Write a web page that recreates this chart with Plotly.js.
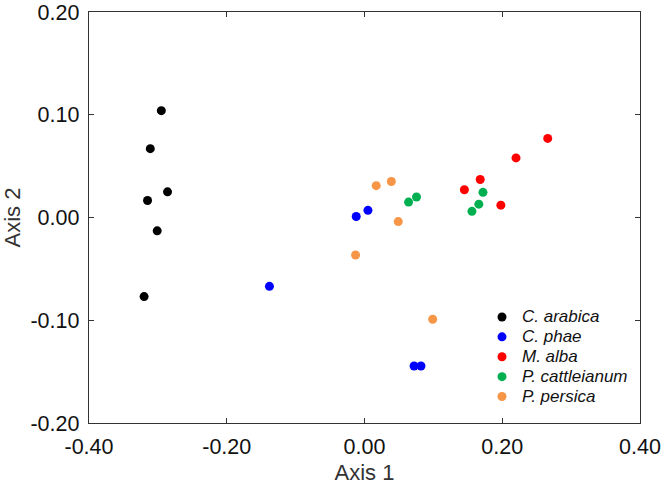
<!DOCTYPE html>
<html>
<head>
<meta charset="utf-8">
<script src="https://cdn.plot.ly/plotly-3.0.1.min.js"></script>
<style>
  html, body { margin: 0; padding: 0; background: #fff; }
  #chart { width: 662px; height: 485px; }
</style>
</head>
<body>
<div id="chart"></div>
<script>
// Ordination scores (Axis 1, Axis 2) per species
const species = ['C. arabica', 'C. phae', 'M. alba', 'P. cattleianum', 'P. persica'];
const colors = ['#000000', '#0000ff', '#ff0000', '#00b050', '#f79646'];

const arabicaX = [-0.295, -0.311, -0.286, -0.315, -0.301, -0.320];
const arabicaY = [0.104, 0.067, 0.025, 0.0165, -0.013, -0.077];

const phaeX = [-0.138, -0.012, 0.005, 0.072, 0.082];
const phaeY = [-0.067, 0.001, 0.007, -0.1445, -0.1445];

const albaX = [0.266, 0.220, 0.168, 0.145, 0.198];
const albaY = [0.077, 0.058, 0.037, 0.027, 0.012];

const cattleianumX = [0.172, 0.166, 0.156, 0.0755, 0.064];
const cattleianumY = [0.0245, 0.013, 0.006, 0.020, 0.015];

const persicaX = [0.017, 0.039, 0.049, -0.013, 0.099];
const persicaY = [0.031, 0.035, -0.004, -0.0365, -0.099];

const xTicks = [-0.4, -0.2, 0, 0.2, 0.4];
const xTickText = ['-0.40', '-0.20', '0.00', '0.20', '0.40'];
const yTicks = [-0.2, -0.1, 0, 0.1, 0.2];
const yTickText = ['-0.20', '-0.10', '0.00', '0.10', '0.20'];

const xs = [arabicaX, phaeX, albaX, cattleianumX, persicaX];
const ys = [arabicaY, phaeY, albaY, cattleianumY, persicaY];

const FONT = 'Liberation Sans, Arial, Helvetica, sans-serif';

const traces = species.map((name, i) => ({
  type: 'scatter',
  mode: 'markers',
  x: xs[i],
  y: ys[i],
  name: '<span style="font-size:17px;font-style:italic">' + name + '</span>',
  marker: { color: colors[i], size: 9, line: { width: 0 } },
  hoverinfo: 'x+y'
}));

const axisCommon = {
  showgrid: false,
  zeroline: false,
  showline: true,
  linecolor: '#333',
  linewidth: 1.3,
  mirror: 'ticks',
  ticks: 'inside',
  ticklen: 5,
  tickwidth: 1,
  tickcolor: '#333',
  ticklabeloverflow: 'allow',
  tickfont: { family: FONT, size: 21.5, color: '#111' }
};

const layout = {
  width: 662,
  height: 485,
  margin: { l: 89, r: 22, t: 12, b: 62 },
  paper_bgcolor: '#fff',
  plot_bgcolor: '#fff',
  font: { family: FONT },
  showlegend: true,
  legend: {
    x: (482 - 89) / 551,
    y: 1 - (302 - 12) / 411,
    xanchor: 'left',
    yanchor: 'top',
    bgcolor: 'rgba(0,0,0,0)',
    borderwidth: 0,
    font: { family: FONT, size: 13, color: '#111' },
    tracegroupgap: 0
  },
  xaxis: Object.assign({}, axisCommon, {
    range: [-0.4, 0.4],
    tickvals: xTicks,
    ticktext: xTickText,
    ticklabelstandoff: 4,
    title: { text: 'Axis 1', font: { family: FONT, size: 22, color: '#333' }, standoff: 8 }
  }),
  yaxis: Object.assign({}, axisCommon, {
    range: [-0.2, 0.2],
    tickvals: yTicks,
    ticktext: yTickText,
    ticklabelstandoff: 4,
    title: { text: 'Axis 2', font: { family: FONT, size: 22, color: '#333' }, standoff: 8 }
  })
};

Plotly.newPlot('chart', traces, layout, { displayModeBar: false, staticPlot: true });
</script>
</body>
</html>
